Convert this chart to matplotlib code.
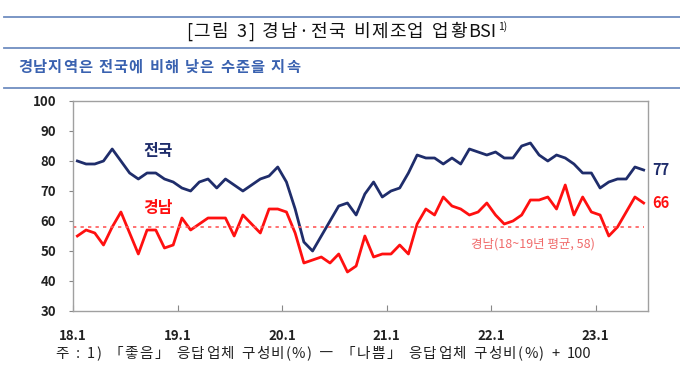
import re

import matplotlib
matplotlib.use('Agg')
import matplotlib.pyplot as plt
from matplotlib.lines import Line2D

plt.rcParams['font.family'] = ['Noto Sans CJK KR', 'DejaVu Sans']

# monthly, 2018.1 - 2023.6
national = [80, 79, 79, 80, 84, 80, 76, 74, 76, 76, 74, 73,
            71, 70, 73, 74, 71, 74, 72, 70, 72, 74, 75, 78,
            73, 64, 53, 50, 55, 60, 65, 66, 62, 69, 73, 68,
            70, 71, 76, 82, 81, 81, 79, 81, 79, 84, 83, 82,
            83, 81, 81, 85, 86, 82, 80, 82, 81, 79, 76, 76,
            71, 73, 74, 74, 78, 77]
gyeongnam = [55, 57, 56, 52, 58, 63, 56, 49, 57, 57, 51, 52,
             61, 57, 59, 61, 61, 61, 55, 62, 59, 56, 64, 64,
             63, 56, 46, 47, 48, 46, 49, 43, 45, 55, 48, 49,
             49, 52, 49, 59, 64, 62, 68, 65, 64, 62, 63, 66,
             62, 59, 60, 62, 67, 67, 68, 64, 72, 62, 68, 63,
             62, 55, 58, 63, 68, 66]
gn_avg = 58
year_labels = ['18.1', '19.1', '20.1', '21.1', '22.1', '23.1']
yticks = [30, 40, 50, 60, 70, 80, 90, 100]

NAVY = '#1f2d6b'
RED = '#ff1010'
RULE = '#6f8dc0'

W, H = 680, 374
fig = plt.figure(figsize=(W / 100, H / 100), dpi=100)
fig.patch.set_facecolor('white')
renderer = fig.canvas.get_renderer()


def px(x, y):
    return x / W, 1 - y / H


def spaced_text(x0, x1, y, s, size, **kw):
    # lay tokens out one by one so the string fills x0..x1 (pixels)
    tokens = re.findall(r'[A-Za-z0-9]+|.', s)
    widths = []
    for tok in tokens:
        if tok == ' ':
            widths.append(size * 0.3 * 100 / 72)
            continue
        t = fig.text(0, 0, tok, fontsize=size, **kw)
        widths.append(t.get_window_extent(renderer=renderer).width)
        t.remove()
    gap = (x1 - x0 - sum(widths)) / (len(tokens) - 1)
    x = x0
    for tok, w in zip(tokens, widths):
        if tok != ' ':
            fig.text(*px(x, y), tok, fontsize=size, ha='left', va='center', **kw)
        x += w + gap


# header rules and texts
for yy in [17, 48, 88]:
    fig.add_artist(Line2D([4 / W, 1], [1 - yy / H] * 2, color=RULE, lw=1.3))

spaced_text(186, 496, 32, '[그림 3] 경남·전국 비제조업 업황BSI', 13,
            color='#111111', fontweight='medium')
fig.text(*px(498, 27), '1)', ha='left', va='center', fontsize=7.5,
         color='#111111')

spaced_text(18, 300, 67, '경남지역은 전국에 비해 낮은 수준을 지속', 11,
            color='#3a62b0', fontweight='bold')

spaced_text(55, 591, 354,
            '주 : 1) 「좋음」 응답업체 구성비(%) ― 「나쁨」 응답업체 구성비(%) + 100',
            10.5, color='#222222')

# chart
ax = fig.add_axes([73 / W, 1 - 311 / H, (648 - 73) / W, (311 - 101) / H])
x = list(range(len(national)))
ax.plot(x, national, color=NAVY, lw=2.0, solid_joinstyle='round')
ax.plot(x, gyeongnam, color=RED, lw=2.0, solid_joinstyle='round')
ax.plot([x[0] - 0.5, x[-1]], [gn_avg, gn_avg], color='#ff5a5a', lw=1.2,
        ls=(0, (2, 2.5)))

ax.set_xlim(-0.5, 65.5)
ax.set_ylim(30, 100)
ax.set_xticks([-0.5 + 12 * i for i in range(len(year_labels))])
ax.set_xticklabels(year_labels)
ax.set_yticks(yticks)
ax.tick_params(axis='x', direction='in', length=4, color='#888888', pad=13,
               labelsize=9.5, labelcolor='#222222')
ax.tick_params(axis='y', direction='out', length=3, color='#888888', pad=9,
               labelsize=9.5, labelcolor='#222222')
for lab in ax.get_xticklabels() + ax.get_yticklabels():
    lab.set_fontweight('bold')
for s in ax.spines.values():
    s.set_color('#a0a0a0')
    s.set_linewidth(1.0)

ax.text(9.3, 83.3, '전국', color=NAVY, fontsize=11.5, fontweight='bold',
        ha='center', va='center')
ax.text(9.3, 64.5, '경남', color=RED, fontsize=11.5, fontweight='bold',
        ha='center', va='center')
ax.annotate(str(national[-1]), (x[-1], national[-1]), xytext=(6, 0),
            textcoords='offset points', color=NAVY, fontsize=10.5,
            fontweight='bold', va='center', annotation_clip=False)
ax.annotate(str(gyeongnam[-1]), (x[-1], gyeongnam[-1]), xytext=(6, 0),
            textcoords='offset points', color=RED, fontsize=10.5,
            fontweight='bold', va='center', annotation_clip=False)
ax.text(52.3, 52.2, '경남(18~19년 평균, %d)' % gn_avg, color='#f06a6a',
        fontsize=9, ha='center', va='center')

fig.savefig('out.png', dpi=100)
